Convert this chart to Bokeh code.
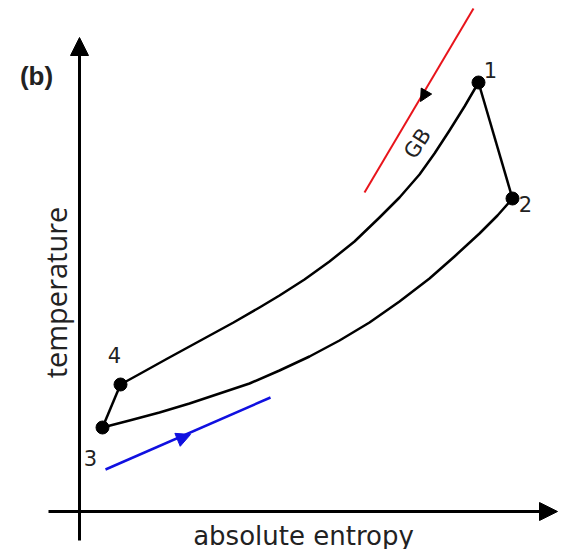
from bokeh.plotting import figure
from bokeh.models import Range1d, Arrow, NormalHead
from bokeh.core.properties import value
from bokeh.embed import file_html
from bokeh.resources import INLINE

# ---- data (entropy s, temperature T, arbitrary units) ----
state_labels = ["1", "2", "3", "4"]
state_s = [399, 433, 23, 41]
state_T = [429, 313, 84, 127]

# process 1 -> 4 (upper curve)
upper_s = [399, 385, 370, 355, 340, 320, 300, 275, 250, 225, 200, 180, 154, 121, 88, 61, 41]
upper_T = [429, 405, 381, 358, 337, 314, 294, 270, 250, 232, 216, 204, 189, 171, 153, 138, 127]

# process 2 -> 3 (lower curve)
lower_s = [433, 418, 400, 375, 350, 320, 290, 260, 230, 200, 170, 140, 110, 80, 50, 23]
lower_T = [313, 296, 278, 255, 233, 210, 189, 171, 155, 141, 128, 118, 108, 99, 91, 84]

# GB direction line (red) and lower direction line (blue)
gb_s = [394, 285]
gb_T = [503, 319]
gb_arrow_tip = (341, 410)
low_s = [26, 191]
low_T = [42, 114]
low_arrow_tip = (111, 77)

# axes extents
s_axis = (-31, 478)
T_axis = (-29, 474)

W, H = 566, 549
p = figure(width=W, height=H, output_backend="svg", toolbar_location=None,
           x_range=Range1d(-79, 487), y_range=Range1d(-38, 511),
           min_border=0, x_axis_type=None, y_axis_type=None)
p.grid.visible = False
p.outline_line_color = None
p.background_fill_color = "white"
p.border_fill_color = "white"

# axes as arrows
p.add_layout(Arrow(end=NormalHead(size=18, fill_color="black", line_color="black"),
                   x_start=0, y_start=T_axis[0], x_end=0, y_end=T_axis[1],
                   line_width=3, line_color="black"))
p.add_layout(Arrow(end=NormalHead(size=18, fill_color="black", line_color="black"),
                   x_start=s_axis[0], y_start=0, x_end=s_axis[1], y_end=0,
                   line_width=3, line_color="black"))

# cycle
p.line(upper_s, upper_T, line_color="black", line_width=2.5, line_join="round")
p.line(lower_s, lower_T, line_color="black", line_width=2.5, line_join="round")
p.line([state_s[0], state_s[1]], [state_T[0], state_T[1]], line_color="black", line_width=2.5)
p.line([state_s[2], state_s[3]], [state_T[2], state_T[3]], line_color="black", line_width=2.5)
p.scatter(state_s, state_T, size=13, color="black")

# direction lines
p.line(gb_s, gb_T, line_color="#e8141b", line_width=2)
p.add_layout(Arrow(end=NormalHead(size=12, fill_color="black", line_color="black"),
                   x_start=gb_s[0], y_start=gb_T[0], x_end=gb_arrow_tip[0], y_end=gb_arrow_tip[1],
                   line_alpha=0))
p.line(low_s, low_T, line_color="#1010e0", line_width=2.5)
p.add_layout(Arrow(end=NormalHead(size=14, fill_color="#1010e0", line_color="#1010e0"),
                   x_start=low_s[0], y_start=low_T[0], x_end=low_arrow_tip[0], y_end=low_arrow_tip[1],
                   line_alpha=0))

# state labels
lab_dx = [12, 13, -12, -6]
lab_dy = [13, -5, -30, 30]
p.text([s + d for s, d in zip(state_s, lab_dx)], [t + d for t, d in zip(state_T, lab_dy)],
       text=state_labels, text_font=value("DejaVu Sans"), text_font_size="21px",
       text_align="center", text_baseline="middle", text_color="#222222")

p.text([338], [368], text=["GB"], angle=57, angle_units="deg",
       text_font=value("DejaVu Sans"), text_font_size="21px",
       text_align="center", text_baseline="middle", text_color="#222222")

p.text([-43], [436], text=["(b)"], text_font=value("Liberation Sans"), text_font_style="bold",
       text_font_size="26px", text_align="center", text_baseline="middle", text_color="#222222")

p.text([-24], [219], text=["temperature"], angle=90, angle_units="deg",
       text_font=value("Open Sans"), text_font_size="29px",
       text_align="center", text_baseline="middle", text_color="#222222")

p.text([224], [-24], text=["absolute entropy"], text_font=value("DejaVu Sans"),
       text_font_size="26px", text_align="center", text_baseline="alphabetic",
       text_color="#222222")

open("out.html", "w").write(file_html(p, INLINE))
